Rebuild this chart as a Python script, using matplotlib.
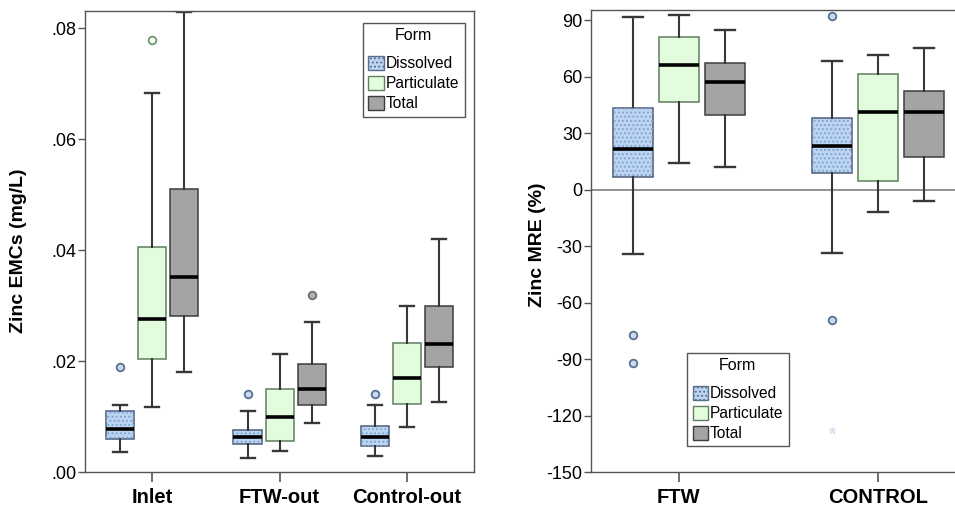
import numpy as np
import matplotlib
matplotlib.use("Agg")
import matplotlib.pyplot as plt
from matplotlib.patches import Patch, PathPatch

plt.rcParams['font.family'] = ['Liberation Sans', 'DejaVu Sans']
plt.rcParams['hatch.linewidth'] = 0.9
plt.rcParams['axes.unicode_minus'] = False

forms = ["Dissolved", "Particulate", "Total"]
sites = ["Inlet", "FTW-out", "Control-out"]
treatments = ["FTW", "CONTROL"]

# box stats: (whislo, q1, med, q3, whishi)
emc_dissolved = [(0.0036, 0.0059, 0.0077, 0.0110, 0.0121),
                 (0.0026, 0.0050, 0.0063, 0.0076, 0.0110),
                 (0.0028, 0.0046, 0.0064, 0.0083, 0.0120)]
emc_particulate = [(0.0117, 0.0204, 0.0275, 0.0406, 0.0683),
                   (0.0037, 0.0055, 0.0100, 0.0150, 0.0212),
                   (0.0081, 0.0123, 0.0170, 0.0233, 0.0300)]
emc_total = [(0.0180, 0.0281, 0.0352, 0.0510, 0.0829),
             (0.0088, 0.0120, 0.0150, 0.0195, 0.0270),
             (0.0126, 0.0190, 0.0230, 0.0300, 0.0420)]
emc_out_dissolved = [[0.0189], [0.0140], [0.0140]]
emc_out_particulate = [[0.0779], [], []]
emc_out_total = [[], [0.0319], []]
emc_ticks = [0.0, 0.02, 0.04, 0.06, 0.08]
emc_ticklabels = [".00", ".02", ".04", ".06", ".08"]

mre_dissolved = [(-34.3, 6.6, 21.5, 43.3, 91.8),
                 (-33.7, 8.9, 23.1, 37.8, 68.1)]
mre_particulate = [(14.2, 46.3, 66.0, 81.1, 92.7),
                   (-12.1, 4.7, 41.0, 61.3, 71.6)]
mre_total = [(11.8, 39.7, 57.1, 67.0, 84.5),
             (-5.9, 17.3, 41.3, 52.3, 75.0)]
mre_out_dissolved = [[-77.3, -92.1], [92.1, -69.3]]
mre_out_particulate = [[], []]
mre_out_total = [[], []]
mre_extreme_dissolved = [[], [-127.7]]
mre_ticks = [90, 60, 30, 0, -30, -60, -90, -120, -150]

fills = ["#bdd5f1", "#e3fcdd", "#a4a4a4"]
edges = ["#4c5c78", "#5f7f5f", "#3d3d3d"]
flier_face = ["#c9d9ee", "#ffffff", "#b0b0b0"]
flier_edge = ["#5a7090", "#6a9a6a", "#707070"]
spine_c = "#555555"


def draw_boxes(ax, series, outliers, width, offset, extremes=None):
    n = len(series[0])
    for j in range(3):
        stats = []
        for i in range(n):
            lo, q1, med, q3, hi = series[j][i]
            stats.append(dict(whislo=lo, q1=q1, med=med, q3=q3, whishi=hi,
                              fliers=outliers[j][i]))
        pos = np.arange(n) + (j - 1) * offset
        res = ax.bxp(stats, positions=pos, widths=width, patch_artist=True,
                     manage_ticks=False,
                     boxprops=dict(facecolor=fills[j], edgecolor=edges[j], lw=1.1),
                     medianprops=dict(color="black", lw=2.6),
                     whiskerprops=dict(color="#383838", lw=1.5),
                     capprops=dict(color="#383838", lw=1.7),
                     flierprops=dict(marker="o", ms=5.5, mfc=flier_face[j],
                                     mec=flier_edge[j], mew=1.3))
        if j == 0:
            for b in res["boxes"]:
                ax.add_patch(PathPatch(b.get_path(), facecolor="none",
                                       edgecolor="#7ea4d4", lw=0, hatch="....",
                                       zorder=2.05))
            if extremes is not None:
                for i in range(n):
                    if extremes[i]:
                        ax.plot([pos[i]] * len(extremes[i]), extremes[i], "*",
                                ms=5, color="#d6e4f4", zorder=3)


def style_axis(ax):
    for s in ax.spines.values():
        s.set_color(spine_c)
        s.set_linewidth(1.0)
    ax.tick_params(axis="y", direction="out", length=5, width=1,
                   color=spine_c, labelsize=13, pad=1)
    ax.tick_params(axis="x", direction="out", length=7, width=1.2,
                   color=spine_c, labelsize=14.5, pad=4.5)
    for lab in ax.get_xticklabels():
        lab.set_fontweight("bold")


def add_legend(ax, anchor):
    handles = [Patch(facecolor=fills[0], edgecolor="#5a6f90", hatch="...."),
               Patch(facecolor=fills[1], edgecolor=edges[1]),
               Patch(facecolor=fills[2], edgecolor=edges[2])]
    leg = ax.legend(handles, forms, title="Form", loc="upper left",
                    bbox_to_anchor=anchor, borderaxespad=0, fontsize=11.2,
                    title_fontsize=11.5, handlelength=1.0, handleheight=1.0,
                    handletextpad=0.1, labelspacing=0.3, borderpad=0.35,
                    fancybox=False, framealpha=1, edgecolor=spine_c)
    leg.get_frame().set_linewidth(1.0)
    leg._legend_box.sep = 9


fig = plt.figure(figsize=(9.55, 5.11), dpi=100)

ax1 = fig.add_axes([0.0885, 0.0763, 0.4079, 0.9022])
draw_boxes(ax1, [emc_dissolved, emc_particulate, emc_total],
           [emc_out_dissolved, emc_out_particulate, emc_out_total],
           width=0.22, offset=0.251)
ax1.set_xlim(-0.529, 2.525)
ax1.set_ylim(0, 0.0831)
ax1.set_yticks(emc_ticks)
ax1.set_yticklabels(emc_ticklabels)
ax1.set_xticks(range(len(sites)))
ax1.set_xticklabels(sites)
style_axis(ax1)
add_legend(ax1, (0.715, 0.974))

ax2 = fig.add_axes([0.6188, 0.0763, 0.3812, 0.904])
ax2.axhline(0, color="#8a8a8a", lw=1.3, zorder=1)
draw_boxes(ax2, [mre_dissolved, mre_particulate, mre_total],
           [mre_out_dissolved, mre_out_particulate, mre_out_total],
           width=0.201, offset=0.231, extremes=mre_extreme_dissolved)
ax2.set_xlim(-0.442, 1.387)
ax2.set_ylim(-150, 95.3)
ax2.set_yticks(mre_ticks)
ax2.set_xticks(range(len(treatments)))
ax2.set_xticklabels(treatments)
ax2.spines["right"].set_visible(False)
style_axis(ax2)
add_legend(ax2, (0.264, 0.258))

fig.text(18.5 / 955, 1 - 251 / 511, "Zinc EMCs (mg/L)", rotation=90,
         ha="center", va="center", fontsize=14, fontweight="bold")
fig.text(537 / 955, 1 - 245 / 511, "Zinc MRE (%)", rotation=90,
         ha="center", va="center", fontsize=14, fontweight="bold")

fig.savefig("out.png", dpi=100)
